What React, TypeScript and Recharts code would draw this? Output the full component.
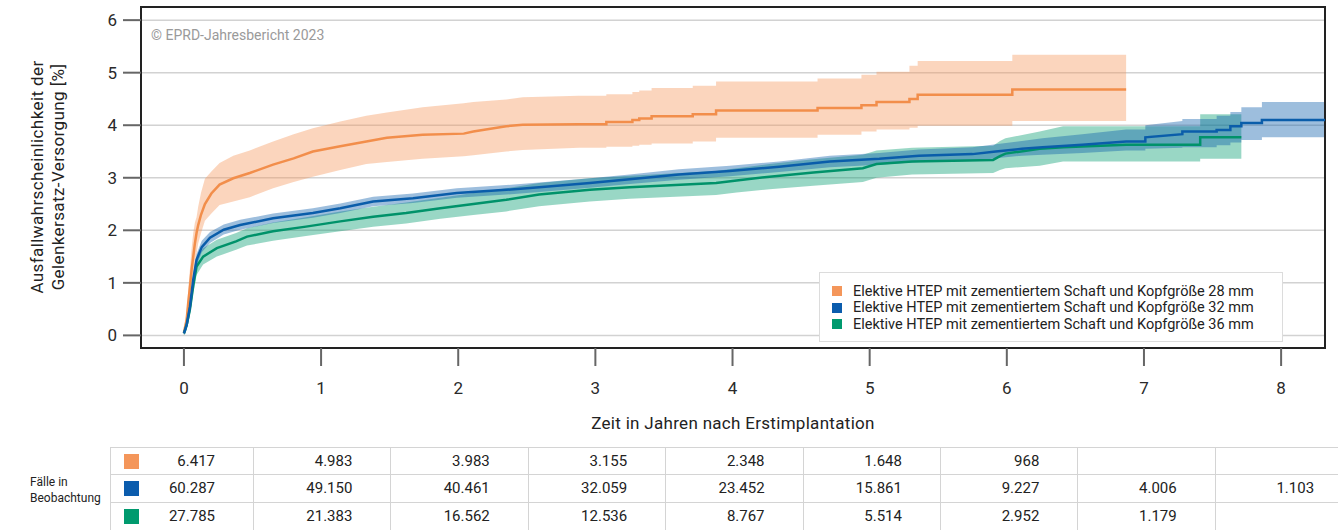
import React from "react";
import {
  ComposedChart,
  Line,
  Area,
  XAxis,
  YAxis,
  CartesianGrid,
  ReferenceArea,
  Legend,
} from "recharts";

const years = [0, 1, 2, 3, 4, 5, 6, 7, 8];
const yTicks = [0, 1, 2, 3, 4, 5, 6];

const seriesLabels = [
  "Elektive HTEP mit zementiertem Schaft und Kopfgröße 28 mm",
  "Elektive HTEP mit zementiertem Schaft und Kopfgröße 32 mm",
  "Elektive HTEP mit zementiertem Schaft und Kopfgröße 36 mm",
];
const lineColors = ["#F28E4B", "#0A5DAA", "#00926A"];
const bandColors = ["#F4965A", "#0A5DAA", "#009A6E"];
const keyColors = ["#F4965A", "#0B5CAD", "#009A6E"];

// Kopfgröße 28 mm
const t28 = [0, 0.02, 0.031, 0.045, 0.056, 0.068, 0.08, 0.092, 0.104, 0.125, 0.153, 0.2, 0.26, 0.36, 0.48, 0.65, 0.8, 0.94, 1.14, 1.33, 1.48, 1.74, 2.04, 2.11, 2.35, 2.47, 2.88, 3.08, 3.08, 3.27, 3.27, 3.32, 3.32, 3.41, 3.41, 3.71, 3.71, 3.88, 3.88, 4.62, 4.62, 4.94, 4.94, 5.05, 5.05, 5.29, 5.29, 5.35, 5.35, 6.04, 6.04, 6.87];
const est28 = [0.05, 0.3, 0.61, 0.95, 1.25, 1.5, 1.75, 1.95, 2.1, 2.3, 2.5, 2.7, 2.87, 2.99, 3.09, 3.25, 3.37, 3.5, 3.6, 3.69, 3.76, 3.82, 3.84, 3.88, 3.98, 4.01, 4.02, 4.02, 4.06, 4.06, 4.1, 4.1, 4.13, 4.13, 4.17, 4.17, 4.21, 4.21, 4.28, 4.28, 4.33, 4.33, 4.38, 4.38, 4.44, 4.44, 4.5, 4.5, 4.58, 4.58, 4.68, 4.68];
const lo28 = [0, 0.15, 0.4, 0.65, 0.9, 1.1, 1.35, 1.55, 1.75, 1.95, 2.18, 2.32, 2.48, 2.55, 2.63, 2.8, 2.92, 3.02, 3.15, 3.26, 3.3, 3.36, 3.41, 3.43, 3.5, 3.53, 3.57, 3.57, 3.59, 3.59, 3.61, 3.61, 3.63, 3.63, 3.65, 3.65, 3.69, 3.69, 3.76, 3.76, 3.82, 3.82, 3.88, 3.88, 3.92, 3.92, 3.95, 3.95, 3.99, 3.99, 4.08, 4.08];
const hi28 = [0.1, 0.45, 0.85, 1.3, 1.65, 1.95, 2.15, 2.25, 2.45, 2.72, 2.98, 3.12, 3.28, 3.42, 3.52, 3.69, 3.83, 3.94, 4.07, 4.18, 4.24, 4.34, 4.42, 4.44, 4.49, 4.53, 4.56, 4.56, 4.59, 4.59, 4.63, 4.63, 4.66, 4.66, 4.71, 4.71, 4.75, 4.75, 4.83, 4.83, 4.89, 4.89, 4.96, 4.96, 5.02, 5.02, 5.13, 5.13, 5.22, 5.22, 5.34, 5.34];

// Kopfgröße 32 mm
const t32 = [0, 0.02, 0.044, 0.068, 0.092, 0.13, 0.19, 0.29, 0.41, 0.65, 0.94, 1.14, 1.38, 1.67, 1.99, 2.35, 2.59, 2.96, 3.25, 3.61, 3.98, 4.34, 4.71, 5.07, 5.36, 5.75, 5.92, 6.11, 6.26, 6.55, 6.87, 7.01, 7.01, 7.28, 7.28, 7.53, 7.53, 7.63, 7.63, 7.71, 7.71, 7.86, 7.86, 8.4];
const est32 = [0.04, 0.2, 0.55, 1.06, 1.44, 1.68, 1.86, 2.01, 2.1, 2.23, 2.33, 2.42, 2.55, 2.61, 2.71, 2.77, 2.82, 2.9, 2.97, 3.06, 3.13, 3.21, 3.31, 3.36, 3.42, 3.45, 3.5, 3.55, 3.58, 3.63, 3.69, 3.69, 3.77, 3.83, 3.88, 3.88, 3.91, 3.91, 3.98, 3.98, 4.04, 4.04, 4.1, 4.1];
const lo32 = [0, 0.12, 0.45, 0.95, 1.33, 1.58, 1.76, 1.92, 2.01, 2.14, 2.24, 2.33, 2.46, 2.52, 2.62, 2.68, 2.73, 2.81, 2.88, 2.96, 3.03, 3.11, 3.2, 3.25, 3.3, 3.32, 3.37, 3.42, 3.44, 3.47, 3.52, 3.52, 3.55, 3.57, 3.58, 3.58, 3.62, 3.62, 3.67, 3.67, 3.72, 3.72, 3.77, 3.77];
const hi32 = [0.08, 0.28, 0.65, 1.17, 1.55, 1.8, 1.97, 2.11, 2.2, 2.32, 2.42, 2.51, 2.64, 2.7, 2.8, 2.86, 2.91, 2.99, 3.06, 3.16, 3.23, 3.31, 3.42, 3.47, 3.54, 3.58, 3.64, 3.7, 3.75, 3.83, 3.92, 3.92, 4.0, 4.08, 4.12, 4.12, 4.18, 4.18, 4.25, 4.25, 4.34, 4.34, 4.44, 4.44];

// Kopfgröße 36 mm
const t36 = [0, 0.02, 0.044, 0.068, 0.092, 0.14, 0.24, 0.38, 0.46, 0.65, 0.89, 1.14, 1.38, 1.62, 1.87, 2.11, 2.35, 2.59, 2.96, 3.25, 3.88, 4.03, 4.27, 4.59, 4.95, 5.05, 5.31, 5.9, 5.95, 5.99, 6.24, 6.41, 6.87, 7.41, 7.41, 7.71];
const est36 = [0.04, 0.2, 0.5, 0.95, 1.31, 1.5, 1.66, 1.79, 1.88, 1.98, 2.07, 2.17, 2.26, 2.33, 2.42, 2.5, 2.58, 2.68, 2.77, 2.82, 2.9, 2.95, 3.02, 3.1, 3.18, 3.26, 3.31, 3.34, 3.41, 3.46, 3.55, 3.58, 3.63, 3.63, 3.77, 3.77];
const lo36 = [0, 0.1, 0.38, 0.8, 1.15, 1.35, 1.5, 1.63, 1.71, 1.8, 1.89, 1.98, 2.07, 2.13, 2.22, 2.29, 2.36, 2.46, 2.55, 2.6, 2.67, 2.72, 2.78, 2.85, 2.92, 3.0, 3.06, 3.09, 3.15, 3.18, 3.23, 3.31, 3.31, 3.31, 3.36, 3.36];
const hi36 = [0.08, 0.3, 0.62, 1.1, 1.47, 1.66, 1.82, 1.95, 2.04, 2.15, 2.25, 2.36, 2.45, 2.53, 2.62, 2.71, 2.8, 2.9, 2.99, 3.04, 3.13, 3.18, 3.26, 3.35, 3.44, 3.52, 3.57, 3.61, 3.7, 3.75, 3.88, 3.98, 3.98, 3.98, 4.21, 4.21];

// Fälle in Beobachtung, je Jahr 0..8
const cases28 = [6417, 4983, 3983, 3155, 2348, 1648, 968, null, null];
const cases32 = [60287, 49150, 40461, 32059, 23452, 15861, 9227, 4006, 1103];
const cases36 = [27785, 21383, 16562, 12536, 8767, 5514, 2952, 1179, null];

const toRows = (t: number[], est: number[], lo: number[], hi: number[]) =>
  t.map((x, i) => ({ t: x, est: est[i], band: [lo[i], hi[i]] }));

const series = [
  toRows(t28, est28, lo28, hi28),
  toRows(t32, est32, lo32, hi32),
  toRows(t36, est36, lo36, hi36),
];

const fmt = (n: number | null) =>
  n == null ? "" : String(n).replace(/\B(?=(\d{3})+(?!\d))/g, ".");

const FONT = "Roboto, 'DejaVu Sans', sans-serif";
const X_DOMAIN: [number, number] = [-0.313, 8.32];
const Y_DOMAIN: [number, number] = [-0.24, 6.25];

function LegendBox() {
  return (
    <div
      style={{
        width: 464,
        height: 70,
        boxSizing: "border-box",
        border: "1px solid #dcdcdc",
        background: "#fff",
        padding: "10px 0 0 12px",
        fontFamily: FONT,
        fontSize: 14.5,
        color: "#222",
      }}
    >
      {seriesLabels.map((label, i) => (
        <div key={i} style={{ display: "flex", alignItems: "center", height: 16.5 }}>
          <span
            style={{ width: 10, height: 10, background: keyColors[i], marginRight: 11, display: "inline-block" }}
          />
          {label}
        </div>
      ))}
    </div>
  );
}

function CasesTable() {
  const rows = [cases28, cases32, cases36];
  const colW = 137.4;
  const firstW = 143;
  return (
    <div style={{ position: "absolute", left: 110, top: 447, width: 1300, fontFamily: FONT }}>
      {rows.map((row, r) => (
        <div key={r} style={{ display: "flex", height: 28 }}>
          {row.map((v, c) => (
            <div
              key={c}
              style={{
                position: "relative",
                width: c === 0 ? firstW : colW,
                flex: "none",
                boxSizing: "border-box",
                borderTop: r === 0 ? "1.5px solid #d4d4d4" : "none",
                borderBottom: "1.5px solid #d4d4d4",
                borderLeft: "1.5px solid #d4d4d4",
                textAlign: "right",
                paddingRight: 38,
                fontSize: 15,
                lineHeight: "27px",
                color: "#222",
              }}
            >
              {c === 0 && (
                <span
                  style={{
                    position: "absolute",
                    left: 13,
                    top: 6,
                    width: 15,
                    height: 15,
                    background: keyColors[r],
                  }}
                />
              )}
              {fmt(v)}
            </div>
          ))}
        </div>
      ))}
    </div>
  );
}

export default function App() {
  return (
    <div
      style={{
        position: "absolute",
        left: 0,
        top: 0,
        width: 1338,
        height: 530,
        overflow: "hidden",
        background: "#fff",
        fontFamily: FONT,
      }}
    >
      <ComposedChart
        width={1338}
        height={448}
        margin={{ top: 7, right: 13, bottom: 40, left: 81 }}
      >
        <CartesianGrid vertical={false} stroke="#d2d2d2" strokeWidth={1.5} />
        <XAxis
          type="number"
          dataKey="t"
          domain={X_DOMAIN}
          ticks={years}
          allowDataOverflow
          axisLine={false}
          tickSize={18}
          tickMargin={16}
          height={60}
          tickLine={{ stroke: "#666", strokeWidth: 2 }}
          tick={{ fontSize: 17, fill: "#2a2a2a", fontFamily: FONT }}
        />
        <YAxis
          type="number"
          domain={Y_DOMAIN}
          ticks={yTicks}
          allowDataOverflow
          axisLine={false}
          tickSize={18}
          tickMargin={6}
          width={60}
          tickLine={{ stroke: "#666", strokeWidth: 2 }}
          tick={{ fontSize: 17, fill: "#2a2a2a", fontFamily: FONT }}
        />
        <Area
          data={series[0]}
          dataKey="band"
          type="linear"
          stroke="none"
          fill={bandColors[0]}
          fillOpacity={0.4}
          legendType="none"
          isAnimationActive={false}
        />
        <Area
          data={series[2]}
          dataKey="band"
          type="linear"
          stroke="none"
          fill={bandColors[2]}
          fillOpacity={0.4}
          legendType="none"
          isAnimationActive={false}
        />
        <Area
          data={series[1]}
          dataKey="band"
          type="linear"
          stroke="none"
          fill={bandColors[1]}
          fillOpacity={0.4}
          legendType="none"
          isAnimationActive={false}
        />
        <Line
          data={series[0]}
          dataKey="est"
          name={seriesLabels[0]}
          type="linear"
          stroke={lineColors[0]}
          strokeWidth={2.5}
          dot={false}
          isAnimationActive={false}
        />
        <Line
          data={series[2]}
          dataKey="est"
          name={seriesLabels[2]}
          type="linear"
          stroke={lineColors[2]}
          strokeWidth={2.5}
          dot={false}
          isAnimationActive={false}
        />
        <Line
          data={series[1]}
          dataKey="est"
          name={seriesLabels[1]}
          type="linear"
          stroke={lineColors[1]}
          strokeWidth={2.5}
          dot={false}
          isAnimationActive={false}
        />
        <ReferenceArea
          x1={X_DOMAIN[0]}
          x2={X_DOMAIN[1]}
          y1={Y_DOMAIN[0]}
          y2={Y_DOMAIN[1]}
          fill="none"
          stroke="#222"
          strokeWidth={2}
          ifOverflow="visible"
        />
        <Legend
          layout="vertical"
          align="center"
          verticalAlign="middle"
          wrapperStyle={{ left: 819, top: 272, width: 464 }}
          content={() => <LegendBox />}
        />
      </ComposedChart>

      {/* Copyright im Diagramm */}
      <div style={{ position: "absolute", left: 151, top: 27, fontSize: 14, color: "#9a9a9a" }}>
        © EPRD-Jahresbericht 2023
      </div>

      {/* Y-Achsentitel */}
      <div
        style={{
          position: "absolute",
          left: 48,
          top: 177,
          width: 320,
          transform: "translate(-50%, -50%) rotate(-90deg)",
          textAlign: "center",
          fontSize: 17,
          letterSpacing: 0.4,
          lineHeight: "21px",
          color: "#222",
        }}
      >
        Ausfallwahrscheinlichkeit der
        <br />
        Gelenkersatz-Versorgung [%]
      </div>

      {/* X-Achsentitel */}
      <div
        style={{
          position: "absolute",
          left: 733,
          top: 423,
          transform: "translate(-50%, -50%)",
          whiteSpace: "nowrap",
          fontSize: 17,
          letterSpacing: 0.3,
          color: "#222",
        }}
      >
        Zeit in Jahren nach Erstimplantation
      </div>

      <div
        style={{ position: "absolute", left: 30, top: 474, fontSize: 12, lineHeight: "16px", color: "#222" }}
      >
        Fälle in
        <br />
        Beobachtung
      </div>

      <CasesTable />
    </div>
  );
}
